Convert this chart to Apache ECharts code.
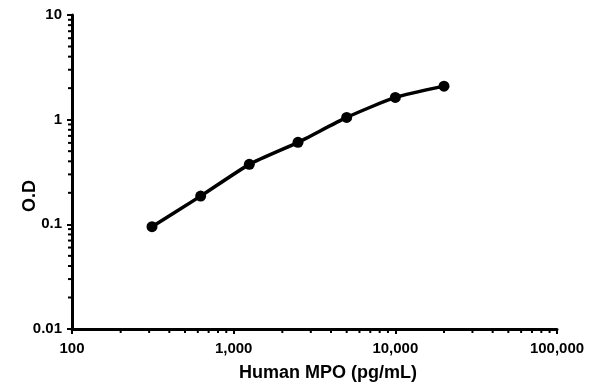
<!DOCTYPE html>
<html><head><meta charset="utf-8">
<script src="https://cdn.jsdelivr.net/npm/echarts@6/dist/echarts.min.js"></script>
<style>html,body{margin:0;padding:0;background:#fff}#c{width:595px;height:392px}</style>
</head><body><div id="c"></div>
<script>
const concentrations = [312.5, 625, 1250, 2500, 5000, 10000, 20000];
const odValues = [0.095, 0.186, 0.374, 0.607, 1.05, 1.63, 2.09];
const xRange = [100, 100000];
const yRange = [0.01, 10];
const xTitle = 'Human MPO (pg/mL)';
const yTitle = 'O.D';

const font = 'Liberation Sans, Arial, sans-serif';
const chart = echarts.init(document.getElementById('c'), null, {renderer: 'canvas'});
const axisCommon = {
  type: 'log', logBase: 10,
  axisLine: {show: true, lineStyle: {color: '#000', width: 3}},
  axisTick: {show: true, inside: false, length: 5, lineStyle: {color: '#000', width: 2}},
  minorTick: {show: false},
  splitLine: {show: false},
  axisLabel: {color: '#000', fontFamily: font, fontWeight: 'bold', fontSize: 15}
};
chart.setOption({
  animation: false,
  grid: {left: 72, right: 38, top: 15, bottom: 63, containLabel: false},
  xAxis: Object.assign({}, axisCommon, {
    min: xRange[0], max: xRange[1],
    name: xTitle, nameLocation: 'middle', nameGap: 35, nameMoveOverlap: false,
    nameTextStyle: {color: '#000', fontFamily: font, fontWeight: 'bold', fontSize: 18, padding: [0, 0, 0, 27]},
    axisLabel: Object.assign({}, axisCommon.axisLabel, {margin: 12,
      formatter: v => Number(v).toLocaleString('en-US')})
  }),
  yAxis: Object.assign({}, axisCommon, {
    min: yRange[0], max: yRange[1],
    name: yTitle, nameLocation: 'middle', nameGap: 33, nameMoveOverlap: false,
    nameTextStyle: {color: '#000', fontFamily: font, fontWeight: 'bold', fontSize: 18, padding: [0, 48, 0, 0]},
    axisLabel: Object.assign({}, axisCommon.axisLabel, {margin: 10,
      formatter: v => String(Number(v))})
  }),
  series: [{
    type: 'line',
    data: concentrations.map((c, i) => [c, odValues[i]]),
    smooth: 0.2,
    symbol: 'circle', symbolSize: 11,
    lineStyle: {color: '#000', width: 3.5},
    itemStyle: {color: '#000'}
  }]
});

// minor ticks at 2..9 within each decade, positioned through the axis scale
const g = [];
for (let d = 100; d < xRange[1]; d *= 10) {
  for (let k = 2; k <= 9; k++) {
    const px = chart.convertToPixel({xAxisIndex: 0}, k * d);
    const py = chart.convertToPixel({yAxisIndex: 0}, yRange[0]);
    g.push({type: 'line', shape: {x1: px, y1: py, x2: px, y2: py + 4}, style: {stroke: '#000', lineWidth: 2}});
  }
}
for (let d = yRange[0]; d < yRange[1] * 0.999; d *= 10) {
  for (let k = 2; k <= 9; k++) {
    const py = chart.convertToPixel({yAxisIndex: 0}, k * d);
    const px = chart.convertToPixel({xAxisIndex: 0}, xRange[0]);
    g.push({type: 'line', shape: {x1: px - 4, y1: py, x2: px, y2: py}, style: {stroke: '#000', lineWidth: 2}});
  }
}
chart.setOption({graphic: g});
</script></body></html>
